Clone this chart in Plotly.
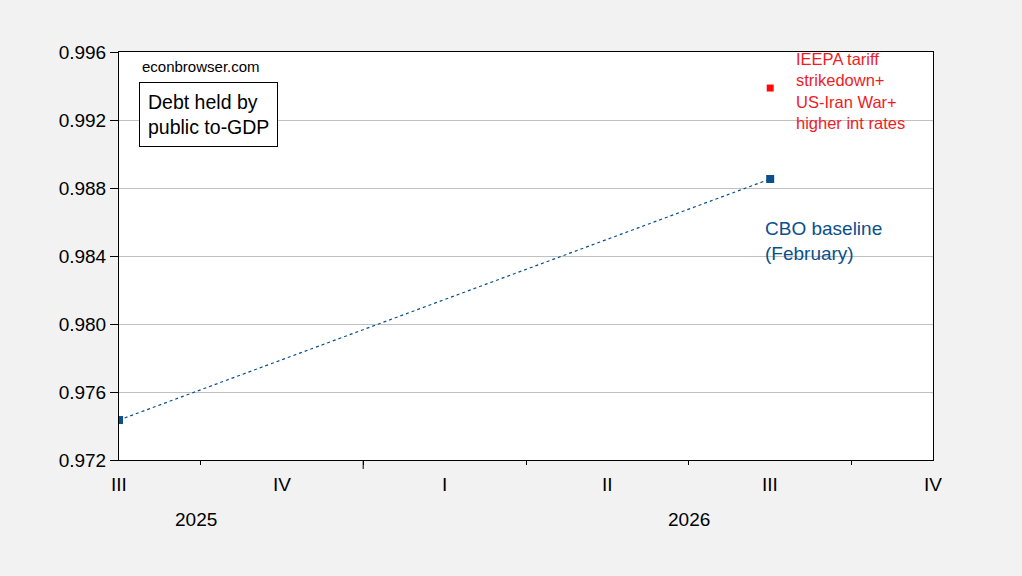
import plotly.graph_objects as go

# Data
quarter_labels = ["III", "IV", "I", "II", "III", "IV"]
year_labels = ["2025", "2026"]
cbo_x = [0, 4]            # quarter index, 0 = 2025Q3
cbo_y = [0.97435, 0.98853]
alt_x = [4]
alt_y = [0.99388]
y_ticks = [0.972, 0.976, 0.980, 0.984, 0.988, 0.992, 0.996]

blue = "#0b4f8c"
red = "#ee1c25"

fig = go.Figure()
fig.add_trace(go.Scatter(
    x=cbo_x, y=cbo_y, mode="lines+markers",
    line=dict(color=blue, width=1.2, dash="dot"),
    marker=dict(symbol="square", size=8, color=blue),
    showlegend=False, hoverinfo="skip"))
fig.add_trace(go.Scatter(
    x=alt_x, y=alt_y, mode="markers",
    marker=dict(symbol="square", size=7, color="#ff0a0a"),
    showlegend=False, hoverinfo="skip"))

font = "Arial, Liberation Sans, sans-serif"

fig.update_layout(
    width=1022, height=576,
    margin=dict(l=119, r=89, t=52, b=116),
    paper_bgcolor="#f2f2f2", plot_bgcolor="white",
    font=dict(family=font, size=19, color="black"),
    xaxis=dict(range=[0, 5], tickvals=[0.5, 1.5, 2.5, 3.5, 4.5],
               ticks="outside", ticklen=4, tickcolor="black",
               showticklabels=False, showgrid=False, zeroline=False,
               showline=True, linecolor="black", linewidth=1, mirror=True),
    yaxis=dict(range=[0.972, 0.996], tickvals=y_ticks,
               ticktext=[f"{v:.3f}" for v in y_ticks],
               ticks="outside", ticklen=8, tickcolor="black",
               showgrid=True, gridcolor="#c0c0c0", gridwidth=1,
               zeroline=False, showline=True, linecolor="black",
               linewidth=1, mirror=True, tickfont=dict(size=19)),
)

# Major tick at year boundary
fig.add_shape(type="line", xref="x", yref="paper", x0=1.5, x1=1.5,
              y0=0, y1=-0.022, line=dict(color="black", width=1))

# Quarter labels
for i, lab in enumerate(quarter_labels):
    fig.add_annotation(x=i, y=-0.061, xref="x", yref="paper", text=lab,
                       showarrow=False, font=dict(size=19), yanchor="middle")
# Year labels
fig.add_annotation(x=0.47, y=-0.147, xref="x", yref="paper", text=year_labels[0],
                   showarrow=False, font=dict(size=19), yanchor="middle")
fig.add_annotation(x=3.5, y=-0.147, xref="x", yref="paper", text=year_labels[1],
                   showarrow=False, font=dict(size=19), yanchor="middle")

# Text annotations
fig.add_annotation(x=0.129, y=0.99512, xref="x", yref="y", text="econbrowser.com",
                   showarrow=False, xanchor="left", yanchor="middle",
                   font=dict(size=15))
fig.add_annotation(x=0.123, y=0.9923, xref="x", yref="y",
                   text="Debt held by<br>public to-GDP",
                   showarrow=False, xanchor="left", yanchor="middle",
                   font=dict(size=19.5), bordercolor="black", borderwidth=1,
                   borderpad=8, bgcolor="white", align="left")
fig.add_annotation(x=4.146, y=0.99368, xref="x", yref="y",
                   text="IEEPA tariff<br>strikedown+<br>US-Iran War+<br>higher int rates",
                   showarrow=False, xanchor="left", yanchor="middle",
                   font=dict(size=16.5, color=red), align="left")
fig.add_annotation(x=3.956, y=0.98491, xref="x", yref="y",
                   text="CBO baseline<br>(February)",
                   showarrow=False, xanchor="left", yanchor="middle",
                   font=dict(size=19, color=blue), align="left")

fig.write_html("out.html", config={"displayModeBar": False},
               post_script="document.body.style.margin='0';")
